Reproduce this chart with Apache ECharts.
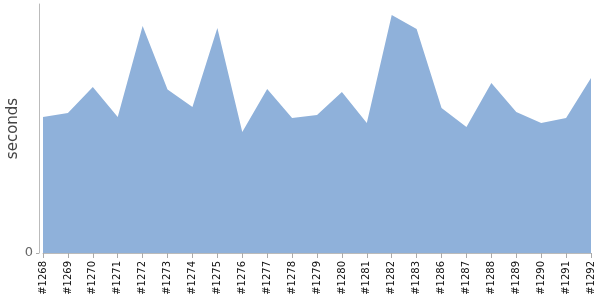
<!DOCTYPE html>
<html><head><meta charset="utf-8">
<script src="https://cdn.jsdelivr.net/npm/echarts@6/dist/echarts.min.js"></script>
<style>html,body{margin:0;padding:0;background:#fff}#c{width:600px;height:300px}</style>
</head><body><div id="c"></div>
<script>
const categories = ['#1268','#1269','#1270','#1271','#1272','#1273','#1274','#1275','#1276','#1277','#1278','#1279','#1280','#1281','#1282','#1283','#1286','#1287','#1288','#1289','#1290','#1291','#1292'];
const seconds = [136,140,166,136,227,163.5,146,225,121,164,135,138,161,130,238,224,145,126,170,141,130,135,175];
const yTicks = [0];
const yMax = 249;

const chart = echarts.init(document.getElementById('c'), null, {renderer:'canvas'});
chart.setOption({
  animation:false,
  grid:{left:43, right:9, top:4, bottom:47, containLabel:false, outerBoundsMode:'none'},
  xAxis:{
    type:'category', data:categories, boundaryGap:false,
    axisLine:{lineStyle:{color:'#bbbbbb'}},
    axisTick:{show:true, length:5, alignWithLabel:true, lineStyle:{color:'#aaaaaa'}},
    axisLabel:{rotate:90, interval:0, fontSize:10, color:'#111', margin:8, fontFamily:'DejaVu Sans'}
  },
  yAxis:{
    type:'value', min:0, max:yMax, offset:4,
    name:'seconds', nameLocation:'middle', nameGap:18, nameMoveOverlap:false,
    nameTextStyle:{fontSize:15, color:'#444', fontFamily:'DejaVu Sans'},
    axisLine:{show:true, lineStyle:{color:'#bbbbbb'}},
    axisTick:{show:true, length:3, customValues:yTicks, lineStyle:{color:'#aaaaaa'}},
    splitLine:{show:false},
    axisLabel:{fontSize:13, color:'#666', margin:6, fontFamily:'DejaVu Sans', customValues:yTicks}
  },
  series:[{
    type:'line', data:seconds, symbol:'none',
    lineStyle:{width:0, color:'#8fb1da'},
    areaStyle:{color:'#8fb1da', opacity:1}
  }]
});
</script></body></html>
